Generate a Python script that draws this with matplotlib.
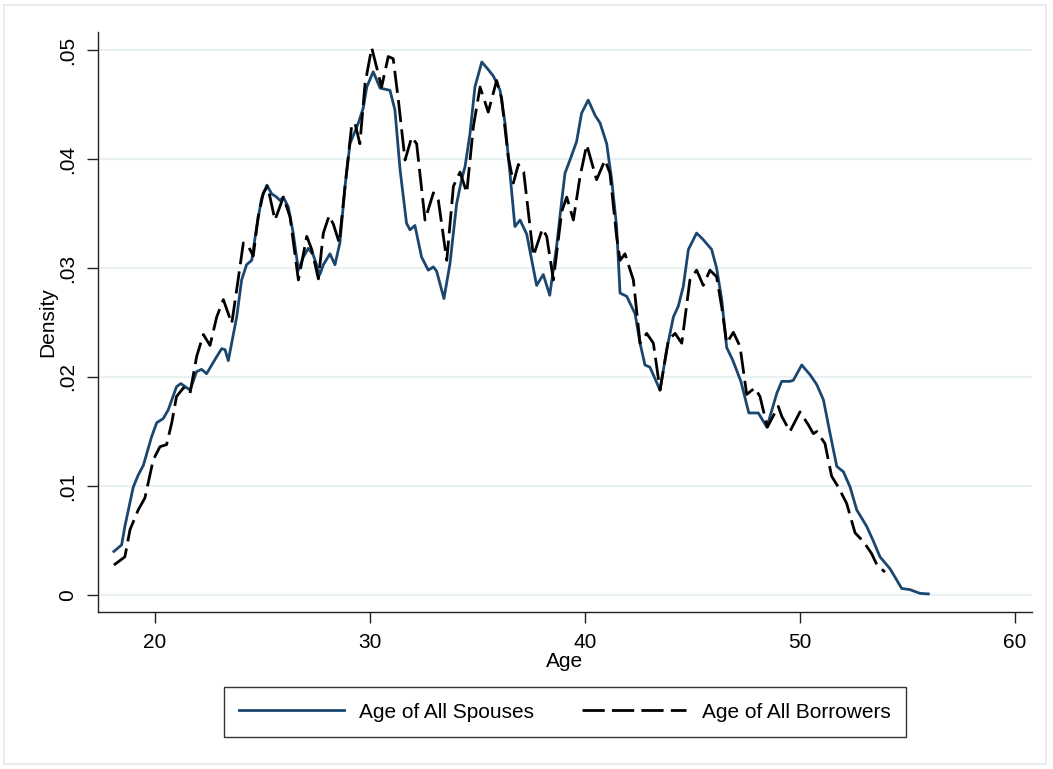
import matplotlib
matplotlib.use("Agg")
import matplotlib.pyplot as plt
from matplotlib.patches import Rectangle

plt.rcParams['font.family'] = ['Liberation Sans', 'DejaVu Sans']

# ---- data ----
spouse_age = [18.09, 18.45, 18.6, 18.99, 19.22, 19.46, 19.84, 20.08, 20.39, 20.62,
              21.0, 21.2, 21.63, 21.94, 22.17, 22.4, 22.79, 23.1, 23.26, 23.41,
              23.8, 24.03, 24.26, 24.5, 24.73, 24.96, 25.2, 25.43, 25.66, 25.81,
              25.97, 26.2, 26.43, 26.67, 26.9, 27.13, 27.36, 27.67, 27.83, 28.14,
              28.37, 28.6, 28.84, 29.07, 29.46, 29.69, 29.85, 30.15, 30.47, 30.93,
              31.16, 31.4, 31.7, 31.86, 32.09, 32.4, 32.71, 32.95, 33.1, 33.44,
              33.72, 34.03, 34.26, 34.42, 34.65, 34.88, 35.2, 35.5, 35.74, 36.05,
              36.28, 36.51, 36.74, 36.98, 37.29, 37.75, 38.06, 38.36, 38.68, 38.92,
              39.07, 39.3, 39.61, 39.84, 40.15, 40.47, 40.7, 41.01, 41.24, 41.47,
              41.63, 41.94, 42.33, 42.56, 42.79, 43.02, 43.49, 43.8, 44.11, 44.34,
              44.57, 44.81, 45.19, 45.5, 45.89, 46.12, 46.36, 46.59, 46.86, 47.25,
              47.62, 48.06, 48.46, 48.92, 49.15, 49.53, 49.69, 50.08, 50.47, 50.78,
              51.09, 51.4, 51.71, 52.02, 52.33, 52.64, 53.1, 53.4, 53.72, 54.19,
              54.73, 55.1, 55.58, 55.97]
spouse_density = [0.0040, 0.0046, 0.0063, 0.0099, 0.0110, 0.0119, 0.0145, 0.0158, 0.0162, 0.0170,
                  0.0191, 0.0194, 0.0188, 0.0205, 0.0207, 0.0203, 0.0216, 0.0226, 0.0225, 0.0215,
                  0.0255, 0.0289, 0.0303, 0.0307, 0.0338, 0.0364, 0.0376, 0.0368, 0.0365, 0.0362,
                  0.0365, 0.0356, 0.0332, 0.0298, 0.0310, 0.0318, 0.0312, 0.0294, 0.0303, 0.0313,
                  0.0303, 0.0323, 0.0375, 0.0414, 0.0433, 0.0447, 0.0466, 0.0480, 0.0465, 0.0463,
                  0.0445, 0.0390, 0.0341, 0.0335, 0.0339, 0.0310, 0.0298, 0.0301, 0.0297, 0.0272,
                  0.0304, 0.0359, 0.0381, 0.0393, 0.0423, 0.0466, 0.0489, 0.0482, 0.0476, 0.0463,
                  0.0433, 0.0387, 0.0338, 0.0344, 0.0331, 0.0284, 0.0294, 0.0275, 0.0320, 0.0362,
                  0.0387, 0.0399, 0.0416, 0.0442, 0.0454, 0.0440, 0.0433, 0.0414, 0.0381, 0.0338,
                  0.0277, 0.0274, 0.0258, 0.0231, 0.0211, 0.0209, 0.0188, 0.0225, 0.0255, 0.0265,
                  0.0283, 0.0317, 0.0332, 0.0326, 0.0317, 0.0300, 0.0271, 0.0227, 0.0216, 0.0196,
                  0.0167, 0.0167, 0.0154, 0.0185, 0.0196, 0.0196, 0.0197, 0.0211, 0.0202, 0.0193,
                  0.0179, 0.0148, 0.0118, 0.0113, 0.0099, 0.0078, 0.0063, 0.0050, 0.0035, 0.0024,
                  0.0006, 0.0005, 0.00015, 0.0001]

borrower_age = [18.09, 18.6, 18.84, 19.22, 19.53, 19.92, 20.23, 20.54, 20.78, 21.0,
                21.32, 21.63, 21.94, 22.25, 22.56, 22.87, 23.18, 23.57, 23.8, 24.11,
                24.34, 24.57, 24.8, 25.04, 25.24, 25.58, 25.97, 26.28, 26.67, 27.06,
                27.29, 27.6, 27.83, 28.1, 28.3, 28.57, 28.84, 29.15, 29.3, 29.53,
                29.77, 30.08, 30.54, 30.85, 31.08, 31.32, 31.63, 31.94, 32.17, 32.56,
                32.95, 33.18, 33.57, 33.88, 34.19, 34.5, 34.81, 35.12, 35.5, 35.89,
                36.12, 36.43, 36.67, 36.9, 37.15, 37.6, 38.02, 38.22, 38.53, 38.92,
                39.15, 39.46, 39.77, 40.08, 40.54, 40.93, 41.16, 41.47, 41.63, 41.86,
                42.25, 42.56, 42.87, 43.18, 43.49, 43.88, 44.19, 44.5, 44.88, 45.19,
                45.5, 45.81, 46.12, 46.36, 46.59, 46.9, 47.21, 47.52, 47.9, 48.14,
                48.48, 48.99, 49.15, 49.53, 50.0, 50.39, 50.62, 50.78, 51.16, 51.47,
                51.78, 52.17, 52.56, 52.95, 53.33, 53.57, 53.95]
borrower_density = [0.00275, 0.0035, 0.0060, 0.0078, 0.0089, 0.0124, 0.0136, 0.0138, 0.0158, 0.0182,
                    0.0190, 0.0185, 0.0219, 0.0239, 0.0229, 0.0255, 0.0271, 0.0249, 0.0280, 0.0323,
                    0.0320, 0.0311, 0.0347, 0.0369, 0.0375, 0.0344, 0.0365, 0.0347, 0.0289, 0.0329,
                    0.0317, 0.0290, 0.0332, 0.0348, 0.0340, 0.0323, 0.0375, 0.0431, 0.0433, 0.0414,
                    0.0469, 0.0502, 0.0466, 0.0494, 0.0492, 0.0454, 0.0399, 0.0420, 0.0414, 0.0344,
                    0.0369, 0.0362, 0.0307, 0.0375, 0.0388, 0.0369, 0.0430, 0.0466, 0.0443, 0.0472,
                    0.0456, 0.0402, 0.0378, 0.0395, 0.0388, 0.0311, 0.0336, 0.0329, 0.0289, 0.0352,
                    0.0365, 0.0344, 0.0384, 0.0413, 0.0381, 0.0399, 0.0387, 0.0329, 0.0307, 0.0313,
                    0.0289, 0.0231, 0.0240, 0.0231, 0.0188, 0.0234, 0.0240, 0.0231, 0.0289, 0.0298,
                    0.0284, 0.0298, 0.0292, 0.0264, 0.0231, 0.0241, 0.0228, 0.0184, 0.0190, 0.0182,
                    0.0154, 0.0173, 0.0164, 0.0150, 0.0168, 0.0156, 0.0148, 0.0150, 0.0139, 0.0109,
                    0.0099, 0.0084, 0.0057, 0.0049, 0.0038, 0.0028, 0.0021]

x_ticks = [20, 30, 40, 50, 60]
y_ticks = [0, 0.01, 0.02, 0.03, 0.04, 0.05]
y_ticklabels = ["0", ".01", ".02", ".03", ".04", ".05"]
series_labels = ["Age of All Spouses", "Age of All Borrowers"]

# ---- figure ----
W, H = 1053, 769
fig = plt.figure(figsize=(W / 100, H / 100), dpi=100)
fig.patch.set_facecolor("white")

# outer light frame
fig.add_artist(Rectangle((4 / W, 1 - 764 / H), 1042 / W, 759 / H, transform=fig.transFigure,
                         fill=False, edgecolor="#e3eaed", linewidth=1.2))

ax = fig.add_axes([98 / W, 1 - 612 / H, (1032 - 98) / W, (612 - 32) / H])
ax.set_xlim(17.35, 60.79)
ax.set_ylim(-0.00156, 0.05165)

for yt in y_ticks:
    ax.axhline(yt, color="#eaf1f3", linewidth=1.6, zorder=0)

ax.plot(spouse_age, spouse_density, color="#1a476f", linewidth=2.0,
        label=series_labels[0], zorder=3)
ax.plot(borrower_age, borrower_density, color="black", linewidth=2.0,
        linestyle=(0, (8, 2.6)), label=series_labels[1], zorder=4)

for s in ["top", "right"]:
    ax.spines[s].set_visible(False)
for s in ["left", "bottom"]:
    ax.spines[s].set_linewidth(1.0)
    ax.spines[s].set_color("#222222")

ax.set_xticks(x_ticks)
ax.set_yticks(y_ticks)
ax.set_yticklabels(y_ticklabels, rotation=90, va="center")
ax.tick_params(axis="both", direction="out", length=8, width=1.0, labelsize=15, color="#222222")
ax.tick_params(axis="x", pad=7)
ax.tick_params(axis="y", pad=7)

ax.set_xlabel("Age", fontsize=15, labelpad=0)
ax.set_ylabel("Density", fontsize=15, labelpad=1)

leg = fig.legend(loc="center", bbox_to_anchor=(565 / W, 1 - 712 / H), ncol=2,
                 fontsize=15, frameon=True, fancybox=False, edgecolor="black",
                 handlelength=5.0, handletextpad=0.75, columnspacing=2.3,
                 borderpad=0.75, borderaxespad=0)
leg.get_frame().set_linewidth(1.0)

fig.savefig("out.png", dpi=100)
